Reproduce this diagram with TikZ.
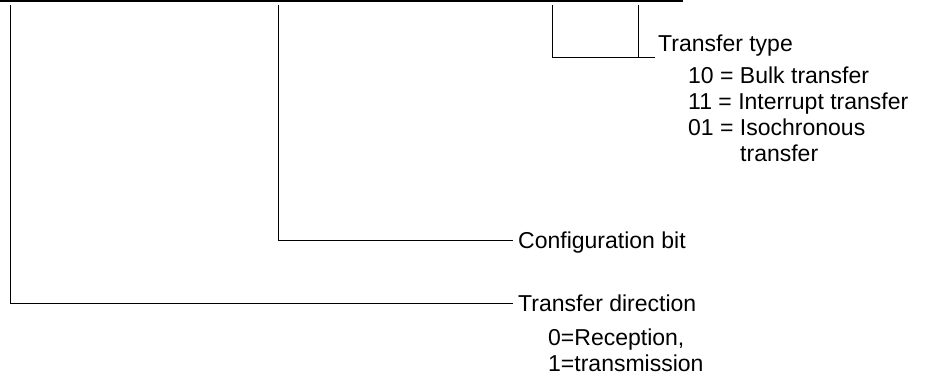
\documentclass[tikz,border=0pt]{standalone}
\usepackage{fontspec}
\setmainfont{Liberation Sans}
\usepackage{tikz}

\begin{document}
\begin{tikzpicture}[x=1pt,y=-1pt]
\tikzstyle{every node}=[font=\fontsize{23}{26}\selectfont]
\tikzstyle{txt}=[anchor=base west,inner xsep=5pt,inner ysep=0pt]
\useasboundingbox (0,0) rectangle (932,380);
\coordinate (L) at (0,1.2);
\coordinate (R) at (683,1.2);
\coordinate (A) at (10,5);
\coordinate (B) at (278,5);
\coordinate (C) at (552,5);
\coordinate (D) at (638,5);
\draw[line width=2.5pt] (L) -- (R);
% transfer type
\node[txt,inner xsep=3pt] (type) at (655,51) {Transfer type};
\node[txt] (bulk) at (683,83) {10 = Bulk transfer};
\node[txt] (intr) at (683,109) {11 = Interrupt transfer};
\node[txt] (iso) at (683,135) {01 = Isochronous};
\node[txt] (iso2) at (735,161) {transfer};
\coordinate (E) at ([yshift=-6pt]type.base west);
\draw (C) |- (E);
\draw (D) -- (D |- E);
% configuration bit
\node[txt] (conf) at (513,248) {Configuration bit};
\draw (B) |- ([yshift=8pt]conf.base west);
% transfer direction
\node[txt] (dir) at (513,311) {Transfer direction};
\node[txt] (rec) at (543,345) {0=Reception,};
\node[txt] (trm) at (543,371) {1=transmission};
\draw (A) |- ([yshift=8pt]dir.base west);
\end{tikzpicture}
\end{document}
